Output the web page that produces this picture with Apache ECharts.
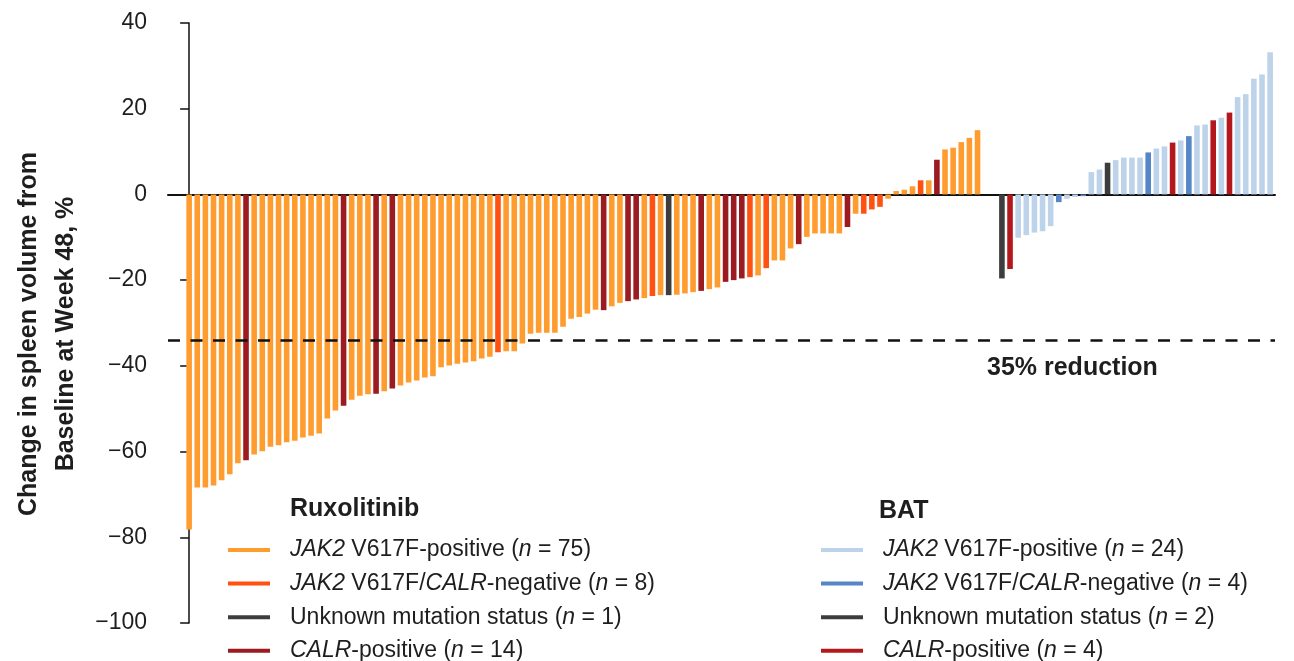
<!DOCTYPE html>
<html>
<head>
<meta charset="utf-8">
<script src="https://cdn.jsdelivr.net/npm/echarts@6/dist/echarts.min.js"></script>
<style>
  html, body { margin: 0; padding: 0; background: #fff; }
  #chart { width: 1294px; height: 661px; }
</style>
</head>
<body>
<div id="chart"></div>
<script>
// ---------- DATA ----------
// Ruxolitinib arm: change in spleen volume from baseline at week 48 (%), one bar per patient
const ruxValues = [
  -78.2, -68.4, -68.4, -67.9, -66.7, -65.3, -62.7, -62.0, -60.7, -59.9,
  -58.9, -58.5, -57.8, -57.5, -56.7, -56.3, -55.8, -52.3, -50.4, -49.3,
  -47.9, -47.0, -46.6, -46.5, -45.9, -45.3, -44.6, -43.9, -43.4, -42.7,
  -42.4, -40.3, -39.9, -39.5, -39.2, -38.9, -38.3, -37.9, -36.8, -36.6,
  -36.6, -34.8, -32.5, -32.3, -32.3, -32.3, -30.9, -29.0, -28.6, -27.8,
  -26.9, -27.0, -26.1, -25.3, -24.9, -24.5, -24.2, -23.7, -23.5, -23.5,
  -23.4, -23.1, -22.8, -22.5, -22.1, -21.7, -20.4, -20.0, -19.6, -19.3,
  -18.9, -17.2, -15.4, -15.4, -12.6, -11.6, -9.9, -9.1, -9.1, -9.1,
  -9.1, -7.6, -4.5, -4.5, -3.5, -2.9, -1.0, 0.8, 1.1, 1.9,
  3.3, 3.3, 8.1, 10.5, 10.9, 12.2, 13.2, 15.0
];
// J = JAK2 V617F-positive, N = JAK2 V617F/CALR-negative, U = unknown, C = CALR-positive
const ruxGroups = [
  'J','J','J','J','J','J','J','C','J','J',
  'J','J','J','J','J','J','J','J','J','C',
  'J','J','J','C','J','C','J','J','J','J',
  'J','J','J','J','J','J','J','J','N','J',
  'J','J','J','J','J','J','J','J','J','J',
  'J','C','J','J','C','C','J','N','J','U',
  'J','J','J','C','J','J','C','C','C','N',
  'J','N','J','J','J','C','J','J','J','J',
  'J','C','J','N','N','N','J','J','J','J',
  'N','J','C','J','J','J','J','J'
];
// BAT arm
const batValues = [
  -19.6, -17.4, -10.1, -9.5, -8.9, -8.6, -7.4, -1.8, -1.0, -0.6,
  -0.4, 5.2, 5.8, 7.4, 8.0, 8.6, 8.6, 8.6, 9.8, 10.7,
  11.2, 12.1, 12.6, 13.6, 16.1, 16.3, 17.3, 17.9, 19.1, 22.7,
  23.4, 27.0, 28.0, 33.2
];
const batGroups = [
  'U','C','J','J','J','J','J','N','J','J',
  'N','J','J','U','J','J','J','J','N','J',
  'J','C','J','N','J','J','C','J','C','J',
  'J','J','J','J'
];
const yTickValues = [40, 20, 0, -20, -40, -60, -80, -100];
const reductionLine = -34;
const reductionLabel = '35% reduction';
const armTitles = ['Ruxolitinib', 'BAT'];
const groupLabels = {
  J: '{i|JAK2} V617F-positive',
  N: '{i|JAK2} V617F/{i|CALR}-negative',
  U: 'Unknown mutation status',
  C: '{i|CALR}-positive'
};
const groupOrder = ['J', 'N', 'U', 'C'];

// ---------- STYLE ----------
const colors = {
  rux: { J: '#FF9C30', N: '#FF5210', U: '#3D3D3D', C: '#9B1B20' },
  bat: { J: '#BDD3E9', N: '#5686C6', U: '#3D3D3D', C: '#B3191C' }
};
const FONT = '"Liberation Sans", Arial, Helvetica, sans-serif';
const TEXT = '#1e1e1e';
const LEGEND_FS = 23;
const BOLD_FS = 25;
const gapSlots = 2; // empty slots between arms

const batStart = ruxValues.length + gapSlots;

function buildSeries(arm, values, groups, offset) {
  return groupOrder.map(code => ({
    name: arm + '-' + code,
    type: 'bar',
    barWidth: 5.6,
    barGap: '-100%',
    itemStyle: { color: colors[arm][code] },
    data: values.map((v, i) => groups[i] === code ? [offset + i, v] : null).filter(d => d),
    silent: true
  }));
}

const series = [
  ...buildSeries('rux', ruxValues, ruxGroups, 0),
  ...buildSeries('bat', batValues, batGroups, batStart)
];
series[0].markLine = {
  silent: true,
  symbol: ['none', 'none'],
  label: { show: false },
  lineStyle: { color: '#111', width: 2.5, type: [12, 10.5] },
  data: [{ yAxis: reductionLine }]
};

const counts = { rux: {}, bat: {} };
ruxGroups.forEach(g => counts.rux[g] = (counts.rux[g] || 0) + 1);
batGroups.forEach(g => counts.bat[g] = (counts.bat[g] || 0) + 1);

function legendFor(arm, left) {
  return {
    orient: 'vertical',
    left: left,
    top: 538.5,
    height: 200,
    padding: 0,
    icon: 'rect',
    itemWidth: 42,
    itemHeight: 4,
    itemGap: 10.6,
    selectedMode: false,
    data: groupOrder.map(c => arm + '-' + c),
    formatter: name => {
      const code = name.split('-')[1];
      return groupLabels[code] + ' ({i|n} = ' + counts[arm][code] + ')';
    },
    textStyle: {
      fontFamily: FONT, fontSize: LEGEND_FS, color: TEXT, lineHeight: 20,
      padding: [0, 0, 0, 15],
      rich: { i: { fontStyle: 'italic', fontFamily: FONT, fontSize: LEGEND_FS, color: TEXT, lineHeight: 20 } }
    }
  };
}

const chart = echarts.init(document.getElementById('chart'), null, { renderer: 'canvas' });
chart.setOption({
  animation: false,
  backgroundColor: '#fff',
  grid: { left: 168, right: 19, top: 23, bottom: 38 },
  xAxis: {
    type: 'value',
    min: -2.6,
    max: batStart + batValues.length - 1 + 0.6,
    axisLine: { show: true, onZero: true, lineStyle: { color: '#111', width: 2 } },
    axisTick: { show: false },
    axisLabel: { show: false },
    splitLine: { show: false }
  },
  yAxis: {
    type: 'value',
    min: Math.min(...yTickValues),
    max: Math.max(...yTickValues),
    interval: yTickValues[0] - yTickValues[1],
    name: 'Change in spleen volume from\nBaseline at Week 48, %',
    nameLocation: 'middle',
    nameGap: 83,
    nameTextStyle: {
      fontFamily: FONT, fontSize: BOLD_FS, fontWeight: 'bold', color: TEXT,
      lineHeight: 37, align: 'center', padding: [0, 22, 0, 0]
    },
    axisLine: { show: true, lineStyle: { color: '#111', width: 1.5 } },
    axisTick: { show: true, length: 9, lineStyle: { color: '#111', width: 1.5 } },
    axisLabel: {
      margin: 21,
      fontFamily: FONT, fontSize: LEGEND_FS, color: TEXT,
      formatter: v => v < 0 ? '\u2212' + Math.abs(v) : String(v)
    },
    splitLine: { show: false }
  },
  legend: [legendFor('rux', 228), legendFor('bat', 821)],
  graphic: [
    { type: 'text', left: 290, top: 497,
      style: { text: armTitles[0], fontFamily: FONT, fontSize: BOLD_FS, fontWeight: 'bold', fill: TEXT } },
    { type: 'text', left: 879, top: 499,
      style: { text: armTitles[1], fontFamily: FONT, fontSize: BOLD_FS, fontWeight: 'bold', fill: TEXT } },
    { type: 'text', left: 987, top: 356,
      style: { text: reductionLabel, fontFamily: FONT, fontSize: BOLD_FS, fontWeight: 'bold', fill: TEXT } }
  ],
  series: series
});
</script>
</body>
</html>
